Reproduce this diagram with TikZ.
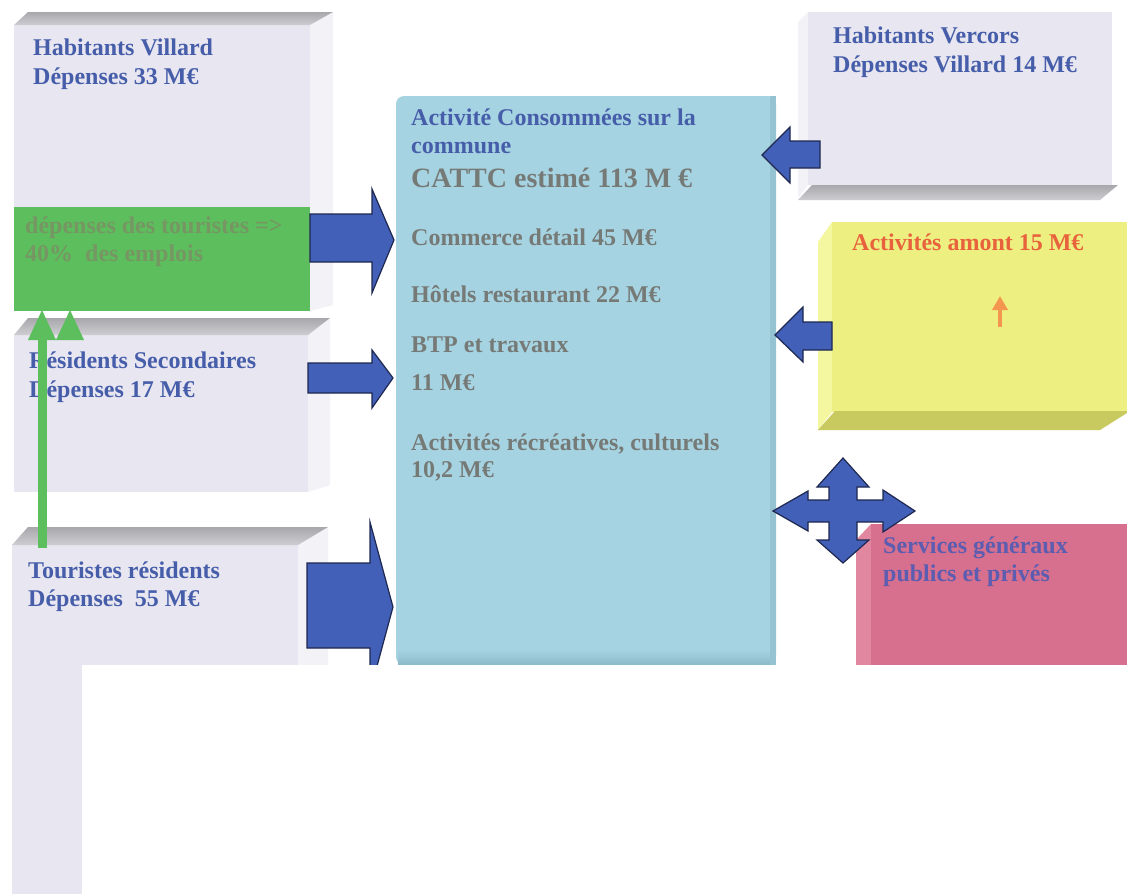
\documentclass[tikz,border=0pt]{standalone}
\usepackage{fontspec}
\setmainfont{Liberation Serif}
\usetikzlibrary{arrows.meta}
\definecolor{lav}{RGB}{232,230,240}
\definecolor{lavside}{RGB}{243,242,247}
\definecolor{bevdark}{RGB}{168,168,172}
\definecolor{bevlight}{RGB}{205,205,210}
\definecolor{cent}{RGB}{166,211,226}
\definecolor{centdark}{RGB}{140,185,200}
\definecolor{barrow}{RGB}{66,96,184}
\definecolor{barrowline}{RGB}{30,40,80}
\definecolor{grn}{RGB}{92,190,92}
\definecolor{grntext}{RGB}{118,150,100}
\definecolor{bluetext}{RGB}{70,94,170}
\definecolor{greytext}{RGB}{118,122,118}
\definecolor{yel}{RGB}{237,240,128}
\definecolor{yelside}{RGB}{245,246,160}
\definecolor{yelbevel}{RGB}{200,202,95}
\definecolor{orngtext}{RGB}{232,98,62}
\definecolor{orngarrow}{RGB}{245,150,80}
\definecolor{pinkbox}{RGB}{214,112,142}
\definecolor{pinkside}{RGB}{225,135,160}
\definecolor{pinktext}{RGB}{92,92,176}
\tikzset{
  lbl/.style={anchor=base west, inner sep=0pt, font=\fontsize{24}{28}\selectfont\bfseries},
  bluet/.style={lbl, text=bluetext},
  greyt/.style={lbl, text=greytext},
  bigt/.style={lbl, text=greytext, font=\fontsize{28}{32}\selectfont\bfseries},
  grnt/.style={lbl, text=grntext},
  orngt/.style={lbl, text=orngtext},
  pinkt/.style={lbl, text=pinktext},
  barr/.style={fill=barrow, draw=barrowline, line width=1.2pt, line join=miter},
  bevel/.style={top color=bevdark, bottom color=bevlight},
}
\begin{document}
\begin{tikzpicture}[x=1pt,y=-1pt]
\useasboundingbox (0,0) rectangle (1127,894);
\fill[white] (0,0) rectangle (1127,894);

% ---- Habitants Villard box
\fill[lavside] (310,25) -- (333,12) -- (333,305) -- (310,311) -- cycle;
\fill[lav] (14,25) rectangle (310,311);
\shade[bevel] (14,25) -- (28,12) -- (333,12) -- (310,25) -- cycle;
% ---- green box
\fill[grn] (14,207) rectangle (310,311);

% ---- Residents secondaires box
\fill[lavside] (308,335) -- (330,318) -- (330,485) -- (308,492) -- cycle;
\fill[lav] (14,335) rectangle (308,492);
\shade[bevel] (14,335) -- (28,318) -- (330,318) -- (308,335) -- cycle;

% ---- Touristes residents box
\fill[lavside] (298,545) -- (328,527) -- (328,894) -- (298,894) -- cycle;
\fill[lav] (12,545) rectangle (298,894);
\shade[bevel] (12,545) -- (28,527) -- (328,527) -- (298,545) -- cycle;

% ---- central box
\fill[cent, rounded corners=8pt] (396,96) -- (776,96) -- (776,665) -- (396,665) -- cycle;
\shade[top color=cent, bottom color=centdark] (398,650) rectangle (774,665);
\fill[centdark!60!cent] (770,96) rectangle (776,665);

% ---- Habitants Vercors box
\fill[lavside] (798,22) -- (808,12) -- (808,185) -- (798,198) -- cycle;
\fill[lav] (808,12) rectangle (1112,185);
\shade[bevel] (798,200) -- (812,185) -- (1118,185) -- (1100,200) -- cycle;

% ---- Activites amont box
\fill[yelside] (818,242) -- (832,222) -- (832,412) -- (818,430) -- cycle;
\fill[yel] (832,222) rectangle (1127,412);
\fill[yelbevel] (818,430) -- (835,411) -- (1127,411) -- (1127,413) -- (1100,430) -- cycle;

% ---- Services generaux box
\fill[pinkside] (856,540) -- (871,524) -- (871,665) -- (856,665) -- cycle;
\fill[pinkbox] (871,524) rectangle (1127,665);

% ---- block arrows
\draw[barr] (310,214) -- (372,214) -- (372,189) -- (394,240) -- (372,293) -- (372,262) -- (310,262) -- cycle;
\draw[barr] (308,363) -- (372,363) -- (372,350) -- (393,378) -- (372,408) -- (372,393) -- (308,393) -- cycle;
\draw[barr] (307,563) -- (370,563) -- (370,522) -- (393,607) -- (370,692) -- (370,648) -- (307,648) -- cycle;
\draw[barr] (820,141) -- (790,141) -- (790,127) -- (762,155) -- (790,183) -- (790,168) -- (820,168) -- cycle;
\draw[barr] (832,322) -- (803,322) -- (803,307) -- (775,335) -- (803,362) -- (803,350) -- (832,350) -- cycle;
\draw[barr] (773,511) -- (808,491) -- (808,500) -- (829,500) -- (829,487) -- (817,487) -- (843,458) -- (869,487) -- (857,487) -- (857,500) -- (883,500) -- (883,490) -- (915,511) -- (883,532) -- (883,522) -- (857,522) -- (857,540) -- (869,540) -- (843,563) -- (817,540) -- (829,540) -- (829,522) -- (808,522) -- (808,531) -- cycle;

% ---- small orange arrow
\draw[orngarrow, line width=4pt, -{Triangle[width=15pt,length=14pt]}] (1000,327) -- (1000,296);

% ---- texts
\node[bluet] (hv1) at (33,55) {Habitants Villard};
\node[bluet] (hv2) at (33,84) {Dépenses 33 M€};
\node[grnt] (g1) at (25,233) {dépenses des touristes =>};
\node[grnt] (g2) at (25,261) {40\%~ des emplois};
\node[bluet] (rs1) at (29,368) {Résidents Secondaires};
\node[bluet] (rs2) at (29,397) {Dépenses 17 M€};
\node[bluet] (tr1) at (28,578) {Touristes résidents};
\node[bluet] (tr2) at (28,606) {Dépenses~ 55 M€};
\node[bluet] (vc1) at (833,43) {Habitants Vercors};
\node[bluet] (vc2) at (833,72) {Dépenses Villard 14 M€};
\node[bluet] (c1) at (411,125) {Activité Consommées sur la};
\node[bluet] (c2) at (411,153) {commune};
\node[bigt] (c3) at (411,187) {CATTC estimé 113 M €};
\node[greyt] (c4) at (411,245) {Commerce détail 45 M€};
\node[greyt] (c5) at (411,302) {Hôtels restaurant 22 M€};
\node[greyt] (c6) at (411,352) {BTP et travaux};
\node[greyt] (c7) at (411,390) {11 M€};
\node[greyt] (c8) at (411,450) {Activités récréatives, culturels};
\node[greyt] (c9) at (411,477) {10,2 M€};
\node[orngt] (am) at (852,250) {Activités amont 15 M€};
\node[pinkt] (sg1) at (883,553) {Services généraux};
\node[pinkt] (sg2) at (883,581) {publics et privés};

% ---- green arrow with double head
\fill[grn] (38,548) rectangle (47,338);
\fill[grn] (28,340) -- (42,310) -- (56,340) -- cycle;
\fill[grn] (56,340) -- (70,310) -- (84,340) -- cycle;

% ---- white cover at bottom
\fill[white] (82,665) rectangle (1127,894);
\end{tikzpicture}
\end{document}
